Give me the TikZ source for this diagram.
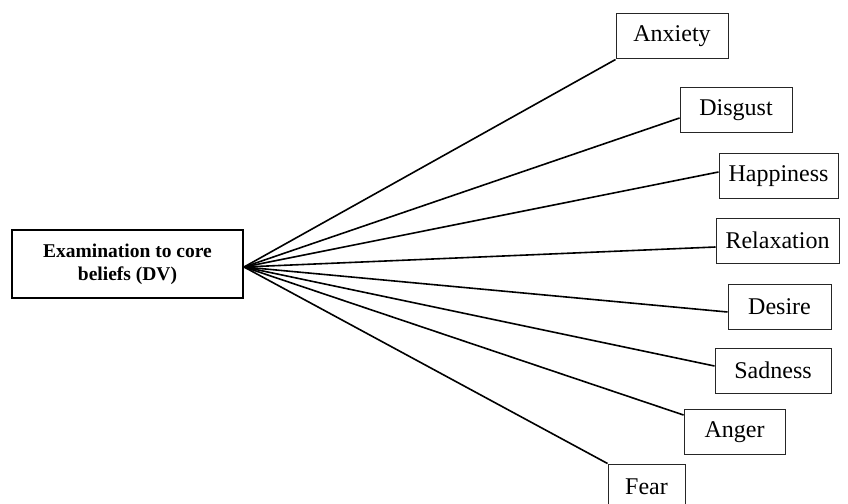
\documentclass[tikz,border=0pt]{standalone}
\usepackage{fontspec}
\setmainfont{Liberation Serif}
\begin{document}
\begin{tikzpicture}[x=1pt,y=-1pt,
  mainbox/.style={draw=black, line width=2pt, minimum width=231pt, minimum height=68pt,
    align=center, inner sep=0pt, font=\bfseries\fontsize{19.5}{23}\selectfont},
  emobox/.style={draw=black!85, line width=1pt, inner sep=0pt, minimum height=45pt,
    font=\fontsize{24}{28}\selectfont},
  link/.style={draw=black, line width=1.6pt}]
  \clip (0,0) rectangle (848,503);

  % central variable
  \node[mainbox] (main) at (127.5,264) {Examination to core\\beliefs (DV)};
  \coordinate (hub) at ([yshift=-3pt]main.east);

  % emotion boxes
  \node[emobox, minimum width=112pt] (anx) at (672,36.5) {Anxiety};
  \node[emobox, minimum width=112pt] (dis) at (736,110) {Disgust};
  \node[emobox, minimum width=119pt] (hap) at (778.5,176) {Happiness};
  \node[emobox, minimum width=123pt] (rel) at (777.5,240.5) {Relaxation};
  \node[emobox, minimum width=103pt] (des) at (779.5,306.5) {Desire};
  \node[emobox, minimum width=116pt] (sad) at (773,370.5) {Sadness};
  \node[emobox, minimum width=101pt] (ang) at (734.5,432) {Anger};
  \node[emobox, minimum width=77pt] (fea) at (646.5,486.5) {Fear};

  % connectors from the hub
  \draw[link] (hub) -- (anx.south west);
  \draw[link] (hub) -- ([yshift=-8pt]dis.west);
  \draw[link] (hub) -- ([yshift=4pt]hap.west);
  \draw[link] (hub) -- ([yshift=-6.5pt]rel.west);
  \draw[link] (hub) -- ([yshift=-5.5pt]des.west);
  \draw[link] (hub) -- ([yshift=4.5pt]sad.west);
  \draw[link] (hub) -- ([yshift=-6pt]ang.north west);
  \draw[link] (hub) -- (fea.north west);
\end{tikzpicture}
\end{document}
